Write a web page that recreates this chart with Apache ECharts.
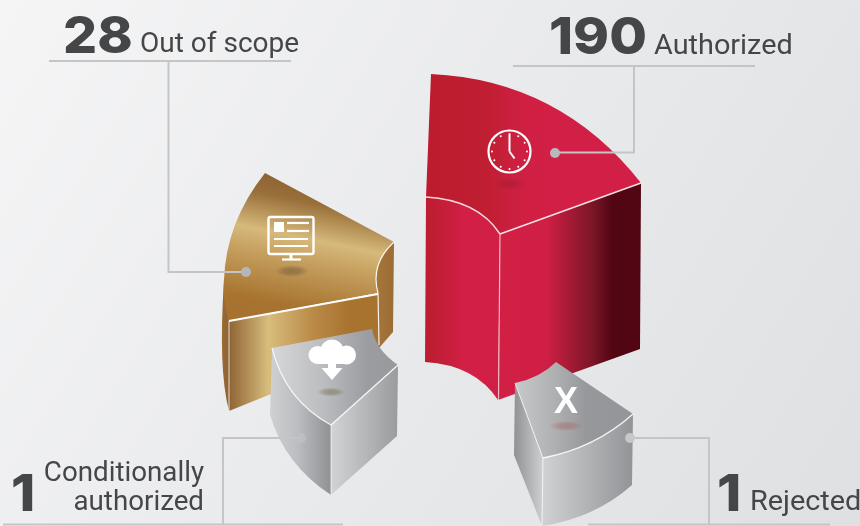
<!DOCTYPE html>
<html>
<head>
<meta charset="utf-8">
<style>html,body{margin:0;padding:0;background:#e9eaec}#chart{width:860px;height:526px}</style>
<script src="https://cdn.jsdelivr.net/npm/echarts@6/dist/echarts.min.js"></script>
</head>
<body>
<div id="chart"></div>
<script>
// Request outcomes and how many requests fell into each
const categories = ['Out of scope', 'Authorized', 'Conditionally\nauthorized', 'Rejected'];
const counts = [28, 190, 1, 1];

const INK = '#454648';
const LEADER = '#c3c5c7';
const NUM_FONT = 'Inter, "DejaVu Sans", sans-serif';
const LABEL_FONT = 'Roboto, sans-serif';

// Horizontal band gradient in canvas pixels
function band(x1, x2, stops, y1, y2) {
  return {
    type: 'linear', global: true,
    x: x1, y: y1 || 0, x2: x2, y2: y2 || 0,
    colorStops: stops.map(s => ({ offset: s[0], color: s[1] }))
  };
}
const p = (d, fill) => ({ type: 'path', shape: { pathData: d }, style: { fill: fill } });
const edge = (d, w, c, o) => ({ type: 'path', shape: { pathData: d }, style: { fill: 'none', stroke: c || '#fff', lineWidth: w, opacity: o == null ? 1 : o } });

// Blurred contact shadow below an icon: a radial circle squashed into an ellipse
function softSpot(cx, cy, rx, ry, rgb, alpha) {
  return {
    type: 'circle', x: cx, y: cy, scaleX: rx / ry,
    shape: { cx: 0, cy: 0, r: ry },
    style: { fill: { type: 'radial', x: 0.5, y: 0.5, r: 0.5, colorStops: [
      { offset: 0, color: `rgba(${rgb},${alpha})` },
      { offset: 0.5, color: `rgba(${rgb},${alpha * 0.75})` },
      { offset: 1, color: `rgba(${rgb},0)` }
    ] } }
  };
}

function dot(x, y, c, o) {
  return { type: 'circle', shape: { cx: x, cy: y, r: 5 }, style: { fill: c || '#b9bbbe', opacity: o == null ? 1 : o } };
}

function leader(points, c, o) {
  return { type: 'polyline', shape: { points }, style: { fill: 'none', stroke: c || LEADER, lineWidth: 2, opacity: o == null ? 1 : o } };
}

// y is the text baseline; text boxes are placed from their top edge
function numberText(str, x, y, sx) {
  return {
    type: 'text', x, y: y - 39.5, scaleX: sx,
    style: { text: str, font: '800 51px ' + NUM_FONT, fill: INK, textAlign: 'left' }
  };
}
function labelText(str, x, y, align, sx) {
  return {
    type: 'text', x, y: y - 21, scaleX: sx,
    style: { text: str, font: '400 28px ' + LABEL_FONT, fill: INK, textAlign: align, lineHeight: 29 }
  };
}

function monitorIcon() {
  const line = (x1, y1, x2, y2, lw) => ({ type: 'line', shape: { x1, y1, x2, y2 }, style: { stroke: '#fff', lineWidth: lw || 2.2 } });
  return [
    { type: 'rect', shape: { x: 268.5, y: 217, width: 45, height: 37, r: 2 }, style: { stroke: '#fff', fill: 'none', lineWidth: 2.4 } },
    { type: 'rect', shape: { x: 274, y: 222, width: 10, height: 10 }, style: { fill: '#fff' } },
    line(287, 223, 309, 223), line(287, 231, 309, 231), line(274, 239, 308, 239), line(274, 246, 308, 246),
    line(291, 254, 291, 259, 3), line(282, 259.5, 301, 259.5)
  ];
}

function clockIcon() {
  const cx = 509.5, cy = 151.5, items = [
    { type: 'circle', shape: { cx, cy, r: 21 }, style: { fill: 'none', stroke: '#fff', lineWidth: 2.2 } },
    { type: 'line', shape: { x1: cx, y1: cy, x2: cx, y2: cy - 17 }, style: { stroke: '#fff', lineWidth: 2 } },
    { type: 'line', shape: { x1: cx, y1: cy, x2: cx + 5, y2: cy + 7 }, style: { stroke: '#fff', lineWidth: 2 } }
  ];
  for (let h = 0; h < 12; h++) {
    const a = h * Math.PI / 6;
    items.push({ type: 'circle', shape: { cx: cx + 17.5 * Math.sin(a), cy: cy - 17.5 * Math.cos(a), r: 1 }, style: { fill: '#fff' } });
  }
  return items;
}

function cloudIcon() {
  const c = (cx, cy, r) => ({ type: 'circle', shape: { cx, cy, r }, style: { fill: '#fff' } });
  return [
    c(317.5, 355, 9), c(332, 351, 11.5), c(346.5, 355, 9.5),
    { type: 'rect', shape: { x: 317, y: 352, width: 30, height: 12 }, style: { fill: '#fff' } },
    { type: 'polygon', shape: { points: [[328, 363], [336, 363], [336, 368], [342.5, 368], [332, 380], [321.5, 368], [328, 368]] }, style: { fill: '#fff' } }
  ];
}

// Each outcome's solid, icon and callout, in drawing order
const artwork = [
  // Out of scope: bronze block
  i => [
    p('M224,280 L229,321 L229,411 Q218,370 224,280 Z', band(222, 229, [[0, '#9b6b33'], [1, '#8d6233']])),
    p('M394,242 Q370,264 378,293 L379,348 L393,332 Z', band(372, 394, [[0, '#a9783a'], [1, '#9b6c34']])),
    p('M229,321 L378,294 L380,350 L229,411 Z', band(229, 380, [[0, '#8e6434'], [0.26, '#d8bd7c'], [0.55, '#bb8b49'], [0.8, '#a8722f'], [1, '#a8732f']])),
    p('M265,173 L394,242 Q370,264 378,293 L229,321 Q222,300 224,280 Q226,222 265,173 Z',
      band(275, 246, [[0, '#8d6333'], [0.14, '#99703a'], [0.38, '#d6b97b'], [0.55, '#c49d5c'], [0.85, '#a7732f'], [1, '#a7722f']], 175, 320)),
    edge('M229,321 L378,294', 2),
    edge('M229,321 L229,411', 1, '#fff', 0.8),
    edge('M394,242 Q370,264 378,293 L379,345', 1.2, '#fff', 0.9),
    softSpot(292, 271, 17, 6, '90,75,55', 0.45),
    ...monitorIcon(),
    leader([[49, 61], [291, 61]]),
    leader([[168.5, 61], [168.5, 272], [246, 272]]),
    dot(246, 272, '#b4b6ba'),
    numberText(String(counts[i]), 63, 52, 1.05),
    labelText(categories[i], 140, 51, 'left', 1)
  ],
  // Authorized: crimson block
  i => [
    p('M426,197 Q478,200 500,234 L498,400 Q475,365 425,362 Z', band(425, 500, [[0, '#bc1d2f'], [0.4, '#cb1f3f'], [0.5, '#d21f45'], [1, '#d21f45']])),
    p('M500,234 L641,183 L640,349 L498,400 Z', band(498, 641, [[0, '#d21f45'], [0.34, '#cf1f44'], [0.66, '#7c1627'], [0.8, '#520513'], [1, '#520513']])),
    p('M431,74 Q560,80 641,183 L500,234 Q478,200 426,197 Z', band(428, 640, [[0, '#bc1c2e'], [0.28, '#c01e33'], [0.42, '#cd2040'], [0.55, '#d21f45'], [1, '#d21f45']])),
    edge('M500,234 L641,183', 1.5, '#fff', 0.85),
    edge('M426,197 Q478,200 500,234', 1.4, '#fff', 0.8),
    edge('M500,234 L498.5,400', 1.2, '#fff', 0.65),
    softSpot(510, 184, 15, 6, '120,20,40', 0.25),
    ...clockIcon(),
    leader([[513, 66], [755, 66]]),
    leader([[634, 66], [634, 152.5], [555, 152.5]]),
    dot(555, 153, '#b9b9bd'),
    numberText(String(counts[i]), 549, 53, 1.07),
    labelText(categories[i], 654, 53, 'left', 1.03)
  ],
  // Conditionally authorized: silver block
  i => [
    p('M272,348 Q285,400 331,425 L331,495 Q285,465 270,415 Z', band(270, 331, [[0, '#cfd0d2'], [0.45, '#bcbdc0'], [1, '#8f9194']])),
    p('M331,425 L398,365 L397,436 L331,495 Z', band(331, 398, [[0, '#d2d3d5'], [0.45, '#b9babc'], [1, '#9a9b9e']])),
    p('M272,348 L372,329 Q376,350 398,365 L331,425 Q285,400 272,348 Z', band(272, 398, [[0, '#d6d7d9'], [0.4, '#bcbdc0'], [0.75, '#9b9da0'], [1, '#97999c']])),
    edge('M272,348 Q285,400 331,425', 1.2, '#fff', 0.8),
    edge('M331,425 L398,365', 1.4, '#fff', 0.85),
    edge('M331,425 L331,495', 1, '#fff', 0.7),
    softSpot(331, 392, 14, 4.5, '125,115,90', 0.6),
    ...cloudIcon(),
    leader([[3, 524.5], [343, 524.5]]),
    leader([[223, 524], [223, 438], [301, 438]], LEADER),
    dot(301, 438, '#bfc1c3', 0.8),
    numberText(String(counts[i]), 11, 510, 1.08),
    labelText(categories[i], 204, 480, 'right', 0.99)
  ],
  // Rejected: silver block
  i => [
    p('M515,383 L543,458 L542,526 L514,455 Z', band(514, 543, [[0, '#8f9194'], [1, '#cfd0d2']])),
    p('M543,458 Q595,448 633,414 L632,485 Q595,518 542,526 Z', band(543, 633, [[0, '#d0d1d3'], [1, '#929497']])),
    p('M515,383 Q540,378 556,362 L633,414 Q595,448 543,458 Z', band(515, 633, [[0, '#c8c9cb'], [0.35, '#adafb1'], [0.6, '#96989b'], [1, '#939598']])),
    edge('M515,383 L543,458', 1, '#fff', 0.75),
    edge('M543,458 Q595,448 633,414', 1.4, '#fff', 0.85),
    edge('M543,458 L542,526', 1, '#fff', 0.7),
    softSpot(566, 426, 17, 5, '170,90,90', 0.45),
    { type: 'text', x: 566, y: 385, style: { text: 'X', font: 'bold 36px "Liberation Sans", sans-serif', fill: '#fff', textAlign: 'center' } },
    leader([[630, 438], [709, 438], [709, 524]]),
    leader([[588, 524.5], [830, 524.5]]),
    dot(630, 438, '#c6c8ca'),
    numberText(String(counts[i]), 717, 510, 1.08),
    labelText(categories[i], 750, 509, 'left', 1.03)
  ]
];

const chart = echarts.init(document.getElementById('chart'));
chart.setOption({
  animation: false,
  backgroundColor: {
    type: 'linear', x: 0, y: 0, x2: 1, y2: 1,
    colorStops: [{ offset: 0, color: '#f5f5f6' }, { offset: 0.55, color: '#e8e9eb' }, { offset: 1, color: '#dfe0e2' }]
  },
  series: [{
    type: 'custom',
    coordinateSystem: 'none',
    silent: true,
    data: counts,
    renderItem: (params) => ({ type: 'group', children: artwork[params.dataIndex](params.dataIndex) })
  }]
});
</script>
</body>
</html>
